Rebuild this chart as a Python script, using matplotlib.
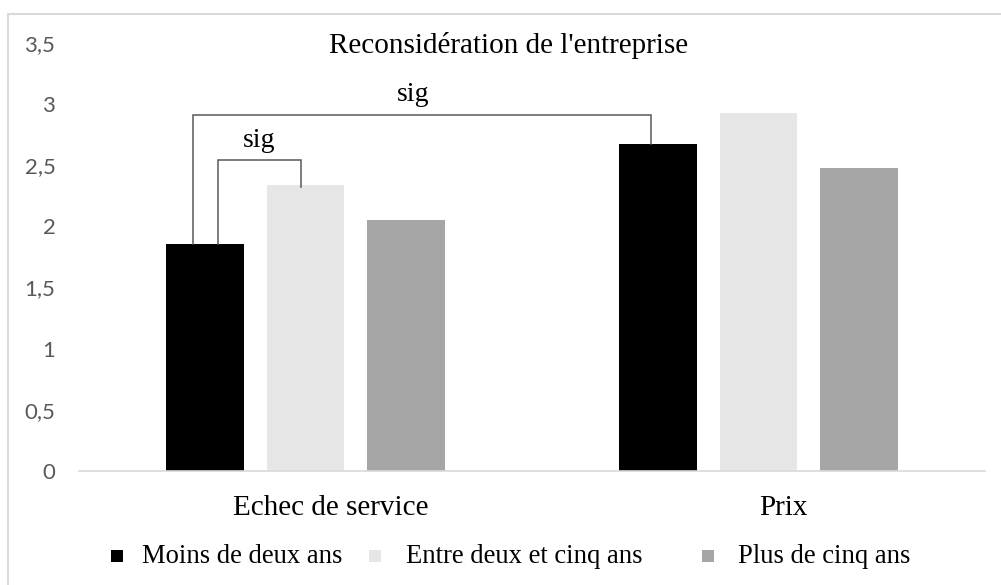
import matplotlib
matplotlib.use("Agg")
import matplotlib.pyplot as plt
from matplotlib.patches import Rectangle
from matplotlib.ticker import FuncFormatter

categories = ["Echec de service", "Prix"]
series_names = ["Moins de deux ans", "Entre deux et cinq ans", "Plus de cinq ans"]
values_moins = [1.86, 2.67]
values_entre = [2.34, 2.93]
values_plus = [2.05, 2.48]
colors = ["#000000", "#e6e6e6", "#a6a6a6"]
yticks = [0, 0.5, 1, 1.5, 2, 2.5, 3, 3.5]
title = "Reconsidération de l'entreprise"

SERIF = "Liberation Serif"
W, H = 1001, 585
fig = plt.figure(figsize=(W / 100, H / 100), dpi=100)
ax = fig.add_axes([79 / W, 114 / H, 906 / W, 428 / H])

series = [values_moins, values_entre, values_plus]
step = 0.221
width = 0.172
xs = list(range(len(categories)))
centers = []
for i, vals in enumerate(series):
    pos = [x + (i - 1) * step for x in xs]
    centers.append(pos)
    ax.bar(pos, vals, width=width, color=colors[i], edgecolor="none", zorder=2)

ax.set_xlim(-0.5, 1.5)
ax.set_ylim(0, 3.5)
ax.set_yticks(yticks)
ax.yaxis.set_major_formatter(FuncFormatter(lambda v, p: ("%g" % v).replace(".", ",")))
ax.tick_params(axis="y", length=0, pad=17, labelsize=16, labelcolor="#595959")
for lab in ax.get_yticklabels():
    lab.set_fontfamily("Lato")
ax.set_xticks([])
for s in ["top", "right", "left"]:
    ax.spines[s].set_visible(False)
ax.spines["bottom"].set_color("#d9d9d9")
ax.spines["bottom"].set_linewidth(1.2)

# category labels
for x, c in zip(xs, categories):
    ax.text(x + 0.056, -0.36, c, ha="center", va="baseline", fontsize=21,
            family=SERIF, color="#000000")

# significance brackets
lc = "#595959"
lw = 1.1
bx0 = centers[0][0] - 0.027
bx1 = centers[0][1] - 0.016
btop = 2.915
ax.plot([bx0, bx0, bx1, bx1], [values_moins[0], btop, btop, values_moins[1]],
        color=lc, lw=lw, zorder=3, solid_joinstyle="miter")
ax.text((bx0 + bx1) / 2 - 0.02, btop + 0.11, "sig", ha="center", va="baseline",
        fontsize=20, family=SERIF)

sx0 = centers[0][0] + 0.028
sx1 = centers[1][0] - 0.01
stop = 2.543
ax.plot([sx0, sx0, sx1, sx1], [values_moins[0], stop, stop, values_entre[0] - 0.02],
        color=lc, lw=lw, zorder=3, solid_joinstyle="miter")
ax.text((sx0 + sx1) / 2 + 0.0, stop + 0.11, "sig", ha="center", va="baseline",
        fontsize=20, family=SERIF)

# title
fig.text(509 / W, 1 - 53 / H, title, ha="center", va="baseline", fontsize=21, family=SERIF)

# legend (manual)
sq_x = [111, 369, 702]
txt_x = [142, 406, 738]
for i, name in enumerate(series_names):
    fig.patches.append(Rectangle((sq_x[i] / W, (H - 562) / H), 12 / W, 12 / H,
                                 transform=fig.transFigure, facecolor=colors[i],
                                 edgecolor="none"))
    fig.text(txt_x[i] / W, 1 - 563 / H, name, ha="left", va="baseline",
             fontsize=19.2, family=SERIF)

# chart border (only top and left visible in the reference)
fig.patches.append(Rectangle((8 / W, -0.1), 1.2, (H - 14) / H + 0.1,
                             transform=fig.transFigure, facecolor="none",
                             edgecolor="#d9d9d9", linewidth=1.5))

fig.savefig("out.png", dpi=100)
